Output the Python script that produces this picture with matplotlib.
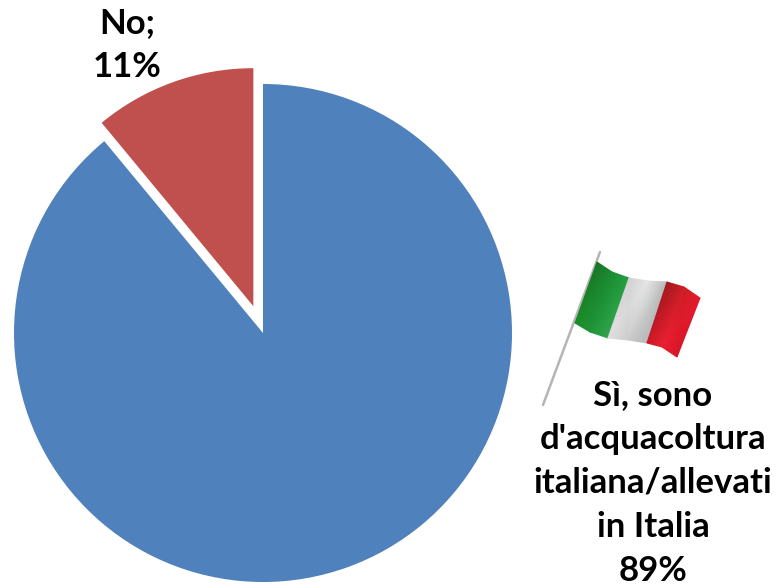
import matplotlib
matplotlib.use("Agg")
import matplotlib.pyplot as plt
import numpy as np

plt.rcParams['font.family'] = ['Lato', 'DejaVu Sans']

# Pie values
labels = ["Sì, sono\nd'acquacoltura\nitaliana/allevati\nin Italia\n89%", "No;\n11%"]
values = [89, 11]
colors = ["#4F81BD", "#C0504D"]

H = 588

fig = plt.figure(figsize=(7.79, 5.88), dpi=100)
ax = fig.add_axes([0, 0, 1, 1])

wedges, _ = ax.pie(values, colors=colors, startangle=90, counterclock=False,
                   center=(263, H - 333), radius=249, explode=[0, 28.5])
wedges[1].set_radius(238)

# Small waving flag next to the label, drawn as a shaded mesh
top = [(597, 262), (612, 272), (629, 278), (629, 278), (648, 281), (667, 282),
       (667, 282), (684, 287), (700, 298)]
bottom = [(575, 323), (590, 332), (608, 338), (608, 338), (628, 340), (647, 343),
          (647, 343), (662, 347), (677, 357)]
shades_top = [(0.10, 0.45, 0.15), (0.10, 0.55, 0.20), (0.15, 0.62, 0.25),
              (0.82, 0.82, 0.82), (0.90, 0.90, 0.90), (0.72, 0.72, 0.72),
              (0.62, 0.10, 0.12), (0.80, 0.12, 0.15), (0.90, 0.10, 0.18)]
shades_bottom = [(0.10, 0.55, 0.15), (0.12, 0.58, 0.22), (0.20, 0.65, 0.30),
                 (0.88, 0.88, 0.88), (0.80, 0.80, 0.80), (0.70, 0.72, 0.72),
                 (0.80, 0.10, 0.15), (0.92, 0.12, 0.20), (0.85, 0.08, 0.15)]

top = np.array(top, dtype=float)
bottom = np.array(bottom, dtype=float)
X = np.array([top[:, 0], bottom[:, 0]])
Y = H - np.array([top[:, 1], bottom[:, 1]])
C = np.array([shades_top, shades_bottom])
ax.plot([600, 543], [H - 252, H - 405], color="#B5B5B5", lw=1.8, solid_capstyle="round", zorder=1)
ax.pcolormesh(X, Y, C, shading="gouraud", zorder=2)

ax.text(653, H - 483, labels[0], ha="center", va="center", fontsize=25,
        fontweight="bold", color="black", linespacing=1.46)
ax.text(127, H - 45, labels[1], ha="center", va="center", fontsize=25,
        fontweight="bold", color="black", linespacing=1.46)

ax.set_xlim(0, 779)
ax.set_ylim(0, H)
ax.set_aspect("auto")
ax.axis("off")

fig.savefig("out.png", dpi=100)
